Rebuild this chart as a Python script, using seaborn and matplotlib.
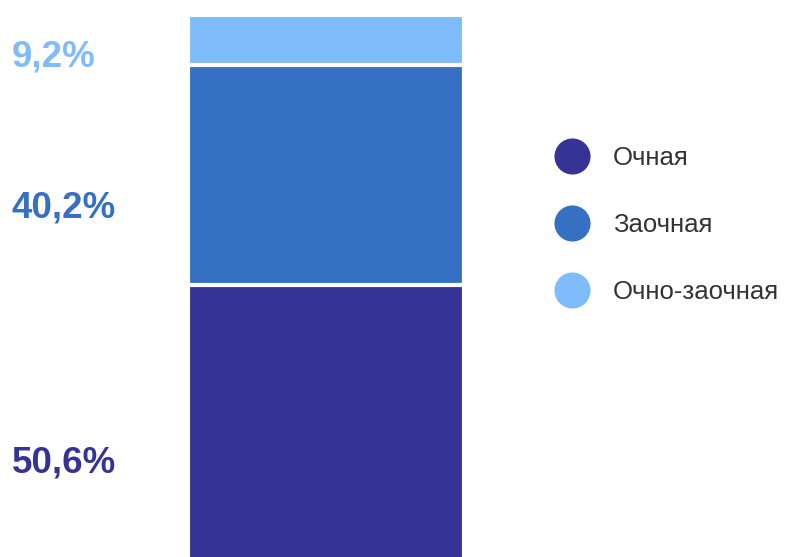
import numpy as np
import pandas as pd
import matplotlib
matplotlib.use("Agg")
import matplotlib.pyplot as plt
from matplotlib.lines import Line2D
import seaborn as sns

forms = ["Очная", "Заочная", "Очно-заочная"]
shares = [50.6, 40.2, 9.2]
share_labels = ["50,6%", "40,2%", "9,2%"]
colors = ["#363397", "#3670C3", "#80BCFC"]

sns.set_style("white")
plt.rcParams["font.family"] = ["Liberation Sans", "DejaVu Sans"]

fig = plt.figure(figsize=(7.86, 5.57), dpi=100)
ax = fig.add_axes([188 / 786, -4 / 557, 275.5 / 786, (557 - 11) / 557])

# stacked bar: draw cumulative totals from the top down so each segment sits on the previous one
cum = np.cumsum(shares)
for i in reversed(range(len(forms))):
    df = pd.DataFrame({"g": ["all"], "v": [cum[i]]})
    sns.barplot(data=df, x="g", y="v", color=colors[i], saturation=1,
                width=1, edgecolor="white", linewidth=3, ax=ax)

ax.set_xlim(-0.5, 0.5)
ax.set_ylim(0, 100)
ax.axis("off")

# percentage labels on the left
label_y = [472, 218, 66]
for lab, c, yp in zip(share_labels, colors, label_y):
    fig.text(12 / 786, 1 - yp / 557, lab, color=c, fontsize=26.5,
             fontweight="bold", ha="left", va="baseline")

handles = [Line2D([], [], marker="o", ls="", markersize=26,
                  markerfacecolor=c, markeredgewidth=0) for c in colors]
leg = fig.legend(handles, forms, loc="upper left",
                 bbox_to_anchor=(559 / 786, 1 - 145.5 / 557),
                 frameon=False, fontsize=18.5, labelspacing=1.68,
                 handlelength=1.0, handletextpad=1.1, borderpad=0,
                 borderaxespad=0)
for t in leg.get_texts():
    t.set_color("#333333")

fig.savefig("out.png", dpi=100)
